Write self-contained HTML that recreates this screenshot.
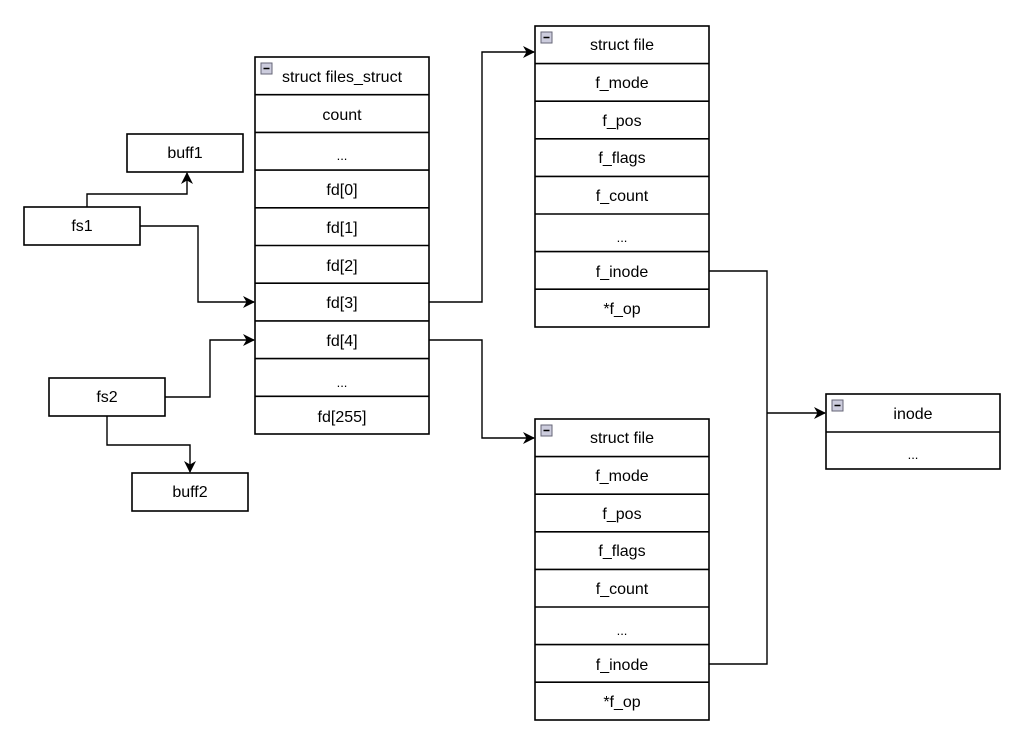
<!DOCTYPE html>
<html><head><style>body{margin:0;background:#fff}</style></head><body>
<svg width="1024" height="740" xmlns="http://www.w3.org/2000/svg" font-family="Liberation Sans, sans-serif" font-size="16">
<defs><marker id="a" markerWidth="12" markerHeight="12" refX="11" refY="6" orient="auto" markerUnits="userSpaceOnUse"><path d="M0,0 L12,6 L0,12 L3.5,6 Z" fill="#000"/></marker></defs>
<rect width="1024" height="740" fill="#fff"/>
<g fill="none" stroke="#000" stroke-width="1.4">
<path d="M87,207 V194 H187 V173" marker-end="url(#a)"/>
<path d="M140,226 H198 V302 H254" marker-end="url(#a)"/>
<path d="M165,397 H210 V340 H254" marker-end="url(#a)"/>
<path d="M107,416 V445 H190 V472" marker-end="url(#a)"/>
<path d="M429,302 H482 V52 H534" marker-end="url(#a)"/>
<path d="M429,340 H482 V438 H534" marker-end="url(#a)"/>
<path d="M709,271 H767 V664 H709"/>
<path d="M767,413 H825" marker-end="url(#a)"/>
</g>
<g stroke="#000" stroke-width="1.6" fill="#fff">
<rect x="127" y="134" width="116" height="38"/>
<rect x="24" y="207" width="116" height="38"/>
<rect x="49" y="378" width="116" height="38"/>
<rect x="132" y="473" width="116" height="38"/>
<rect x="255" y="57" width="174" height="377"/>
<rect x="535" y="26" width="174" height="301"/>
<rect x="535" y="419" width="174" height="301"/>
<rect x="826" y="394" width="174" height="75"/>
</g>
<g stroke="#000" stroke-width="1.6">
<path d="M255,94.7H429M255,132.4H429M255,170.1H429M255,207.8H429M255,245.5H429M255,283.2H429M255,320.9H429M255,358.6H429M255,396.3H429"/>
<path d="M535,63.6H709M535,101.2H709M535,138.8H709M535,176.4H709M535,214H709M535,251.6H709M535,289.2H709"/>
<path d="M535,456.6H709M535,494.2H709M535,531.8H709M535,569.4H709M535,607H709M535,644.6H709M535,682.2H709"/>
<path d="M826,432H1000"/>
</g>
<g fill="#ccd" stroke="#667" stroke-width="1">
<rect x="261" y="63" width="11" height="11"/><rect x="541" y="32" width="11" height="11"/>
<rect x="541" y="425" width="11" height="11"/><rect x="832" y="400" width="11" height="11"/>
</g>
<g stroke="#000" stroke-width="1.5">
<path d="M263.5,68.5h6M543.5,37.5h6M543.5,430.5h6M834.5,405.5h6"/>
</g>
<g text-anchor="middle">
<text x="185" y="158">buff1</text><text x="82" y="231">fs1</text>
<text x="107" y="402">fs2</text><text x="190" y="497">buff2</text>
<text x="342" y="82">struct files_struct</text>
<text x="342" y="120">count</text><text x="342" y="160" font-size="13">...</text>
<text x="342" y="195">fd[0]</text><text x="342" y="233">fd[1]</text>
<text x="342" y="271">fd[2]</text><text x="342" y="308">fd[3]</text>
<text x="342" y="346">fd[4]</text><text x="342" y="387" font-size="13">...</text>
<text x="342" y="422">fd[255]</text>
<text x="622" y="50">struct file</text><text x="622" y="88">f_mode</text>
<text x="622" y="126">f_pos</text><text x="622" y="163">f_flags</text>
<text x="622" y="201">f_count</text><text x="622" y="242" font-size="13">...</text>
<text x="622" y="277">f_inode</text><text x="622" y="314">*f_op</text>
<text x="622" y="443">struct file</text><text x="622" y="481">f_mode</text>
<text x="622" y="519">f_pos</text><text x="622" y="556">f_flags</text>
<text x="622" y="594">f_count</text><text x="622" y="635" font-size="13">...</text>
<text x="622" y="670">f_inode</text><text x="622" y="707">*f_op</text>
<text x="913" y="419">inode</text><text x="913" y="459" font-size="13">...</text>
</g>
</svg>
</body></html>
